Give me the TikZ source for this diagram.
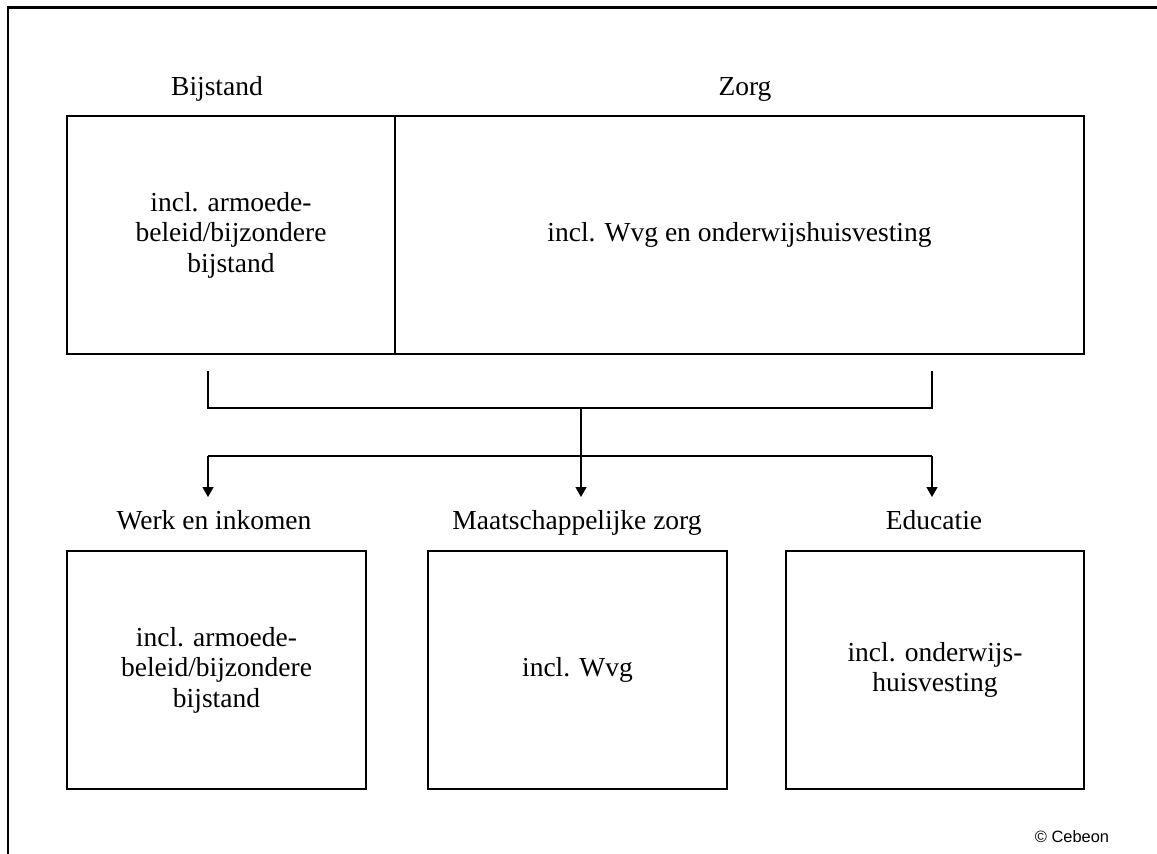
\documentclass[tikz,border=0pt]{standalone}
\usepackage{fontspec}
\setmainfont{Liberation Serif}
\newfontfamily\cebsans{Liberation Sans}
\usetikzlibrary{arrows.meta}
\tikzset{
  box/.style={draw, line width=2pt, rectangle, minimum height=238pt, inner sep=4pt, outer sep=0pt, align=center,
    font=\fontsize{27.5}{30.5}\selectfont},
  lbl/.style={anchor=base, inner sep=0pt, font=\fontsize{27.5}{30.5}\selectfont},
  conn/.style={line width=1.3pt},
  arr/.style={conn, -{Triangle[width=11pt,length=10pt]}},
  frame/.style={line width=2.8pt}
}
\begin{document}
\begin{tikzpicture}[x=1pt,y=-1pt]
\useasboundingbox (0,0) rectangle (1157,854);
\draw[frame] (8,855) -- (8,7.5) -- (1158,7.5);

% top boxes
\node[box, minimum width=328pt] (bij) at (231,235) {incl. armoede-\\beleid/bijzondere\\bijstand};
\node[box, minimum width=689pt] (zorg) at (739.5,235) {incl. Wvg en onderwijshuisvesting};
\node[lbl] (bijl) at (217,95) {Bijstand};
\node[lbl] (zorgl) at (745,95) {Zorg};

% bottom boxes
\node[box, minimum width=299pt] (werk) at (216.5,670) {incl. armoede-\\beleid/bijzondere\\bijstand};
\node[box, minimum width=299pt] (maat) at (577.5,670) {incl. Wvg};
\node[box, minimum width=298pt] (edu) at (935,670) {incl. onderwijs-\\huisvesting};
\node[lbl] (werkl) at (214,529) {Werk en inkomen};
\node[lbl] (maatl) at (577,529) {Maatschappelijke zorg};
\node[lbl] (edul) at (934,529) {Educatie};

% connectors
\coordinate (ls) at (208,371);
\coordinate (rs) at (932,371);
\coordinate (mj) at (581,408);
\coordinate (dl) at (208,456);
\coordinate (dr) at (932,456);
\coordinate (al) at (208,497);
\coordinate (am) at (581,497);
\coordinate (ar) at (932,497);
\draw[conn] (ls) |- (mj) -| (rs);
\draw[arr] (mj) -- (am);
\draw[conn] (dl) -- (dr);
\draw[arr] (dl) -- (al);
\draw[arr] (dr) -- (ar);

\node[inner sep=0pt, font=\cebsans\fontsize{16.4}{18}\selectfont] (copy) at (1072,837) {© Cebeon};
\end{tikzpicture}
\end{document}
